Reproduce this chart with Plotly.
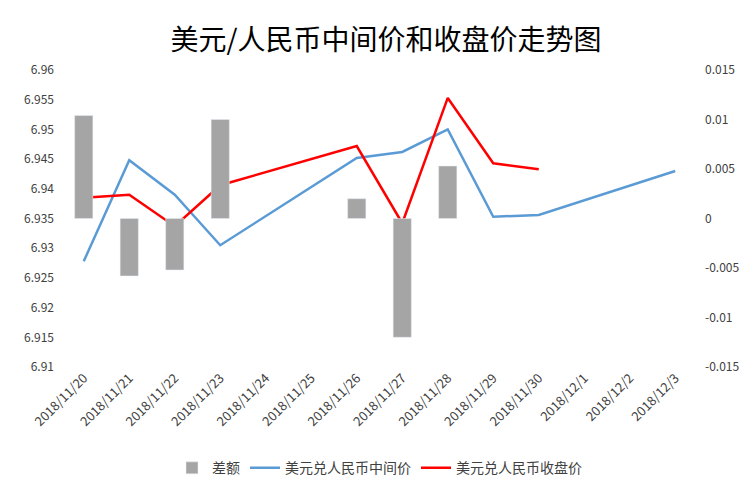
import plotly.graph_objects as go
from plotly.subplots import make_subplots

dates = ["2018/11/20", "2018/11/21", "2018/11/22", "2018/11/23", "2018/11/24", "2018/11/25",
         "2018/11/26", "2018/11/27", "2018/11/28", "2018/11/29", "2018/11/30", "2018/12/1",
         "2018/12/2", "2018/12/3"]
mid = [6.9278, 6.9448, 6.9390, 6.9305, None, None, 6.9452, 6.9462, 6.9500, 6.9353, 6.9356,
       None, None, 6.9430]
close = [6.9385, 6.9390, 6.9337, 6.9406, None, None, 6.9472, 6.9342, 6.9553, 6.9443, 6.9433,
         None, None, None]
diff = [0.0104, -0.0058, -0.0052, 0.0100, None, None, 0.0020, -0.0120, 0.0053, None, None,
        None, None, None]
left_ticks = [6.91, 6.915, 6.92, 6.925, 6.93, 6.935, 6.94, 6.945, 6.95, 6.955, 6.96]
left_labels = ["6.91", "6.915", "6.92", "6.925", "6.93", "6.935", "6.94", "6.945", "6.95",
               "6.955", "6.96"]
right_ticks = [-0.015, -0.01, -0.005, 0, 0.005, 0.01, 0.015]
right_labels = ["-0.015", "-0.01", "-0.005", "0", "0.005", "0.01", "0.015"]

fig = make_subplots(specs=[[{"secondary_y": True}]])
fig.add_trace(go.Bar(x=dates, y=diff, name="差额", marker_color="#a5a5a5", width=0.4),
              secondary_y=True)
fig.add_trace(go.Scatter(x=dates, y=mid, mode="lines", name="美元兑人民币中间价",
                         line=dict(color="#5b9bd5", width=2.5), connectgaps=True),
              secondary_y=False)
fig.add_trace(go.Scatter(x=dates, y=close, mode="lines", name="美元兑人民币收盘价",
                         line=dict(color="#ff0000", width=2.5), connectgaps=True),
              secondary_y=False)

fig.update_layout(
    width=756, height=491, plot_bgcolor="white", paper_bgcolor="white",
    font=dict(family="Noto Sans CJK SC, sans-serif", size=12, color="#404040"),
    title=dict(text="美元/人民币中间价和收盘价走势图", x=0.5, y=0.955, xanchor="center",
               font=dict(size=28, color="black")),
    margin=dict(l=53, r=66, t=62, b=132),
    legend=dict(orientation="h", x=0.5, xanchor="center", yref="container", y=0.03,
                yanchor="bottom", font=dict(size=14, color="#404040")),
)
fig.update_xaxes(type="category", tickangle=-45, showline=False, ticks="", domain=[0, 1],
                 tickfont=dict(size=13), automargin=False)
fig.update_yaxes(range=[6.91, 6.96], tickvals=left_ticks, ticktext=left_labels, showgrid=False,
                 zeroline=False, automargin=False, ticklabelstandoff=6, secondary_y=False)
fig.update_yaxes(range=[-0.015, 0.015], tickvals=right_ticks, ticktext=right_labels,
                 showgrid=False, zeroline=False, automargin=False, ticklabelstandoff=6,
                 secondary_y=True)

fig.write_html("out.html")
